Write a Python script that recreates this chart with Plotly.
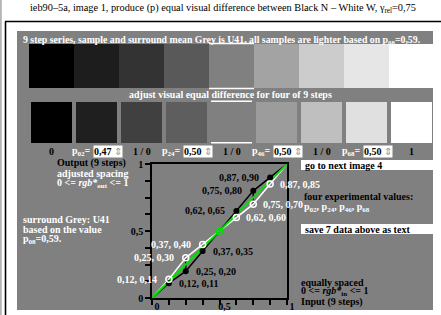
import plotly.graph_objects as go

W, H = 441, 315

# ---------------- data ----------------
x_in = [0, 0.125, 0.25, 0.375, 0.5, 0.625, 0.75, 0.875, 1]
x_lab = ["0", "0,12", "0,25", "0,37", "0,5", "0,62", "0,75", "0,87", "1"]
out_black = [0, 0.11, 0.20, 0.35, 0.5, 0.65, 0.80, 0.90, 1]
out_white = [0, 0.14, 0.30, 0.40, 0.5, 0.60, 0.70, 0.85, 1]
y_lab_black = ["0", "0,11", "0,20", "0,35", "0,5", "0,65", "0,80", "0,90", "1"]
y_lab_white = ["0", "0,14", "0,30", "0,40", "0,5", "0,60", "0,70", "0,85", "1"]

row1_grey = [0, 29, 51, 89, 128, 163, 204, 230, 255]
row2_grey = [0, 31, 64, 94, 128, 156, 191, 224, 255]

step_labels = ["0", "p02", "1 / 0", "p24", "1 / 0", "p46", "1 / 0", "p68", "1"]
p_values = ["0,47", "0,50", "0,50", "0,50"]

major_ticks = [0, 0.5, 1]
major_text = ["0", "0,5", "1"]

FONT = "Liberation Serif"
FS = 10


def px(x):
    return x / W


def py(y):
    return 1 - y / H


shapes = []
annotations = []


def rect(x0, y0, x1, y1, color, layer="below"):
    shapes.append(dict(type="rect", xref="paper", yref="paper",
                       x0=px(x0), x1=px(x1), y0=py(y1), y1=py(y0),
                       fillcolor=color, line=dict(width=0), layer=layer))


def line(x0, y0, x1, y1, color, width, layer="below"):
    shapes.append(dict(type="line", xref="paper", yref="paper",
                       x0=px(x0), x1=px(x1), y0=py(y0), y1=py(y1),
                       line=dict(color=color, width=width), layer=layer))


def text(x, y, s, color="black", size=FS, anchor="left", bold=True, bg=None):
    t = "<b>" + s + "</b>" if bold else s
    a = dict(xref="paper", yref="paper", x=px(x), y=py(y), text=t,
             showarrow=False, xanchor=anchor, yanchor="middle",
             font=dict(family=FONT, size=size, color=color), borderpad=0)
    if bg:
        a["bgcolor"] = bg
    annotations.append(a)


# frame
line(0.8, 0, 0.8, H, "#b4b4b4", 2)
line(5.5, 21.5, 5.5, H, "black", 1.6)
line(5, 21.5, W, 21.5, "black", 1.6)
rect(17, 31, 433, 310, "#808080")

# title
text(29, 8, "ieb90–5a, image 1, produce (p) equal visual difference between Black N – White W, "
     "γ<sub>rel</sub>=0,75", size=10.3, bold=False)

text(22, 39.5, "9 step series, sample and surround mean Grey is U41, all samples are lighter "
     "based on p<sub>08</sub>=0,59.", color="white", size=9.8)

# row 1 patches
for i, g in enumerate(row1_grey):
    x0 = 29 + 45 * i
    rect(x0, 44, x0 + 45, 88, "rgb(%d,%d,%d)" % (g, g, g))
mid = len(row1_grey) // 2
line(29 + 45 * mid, 43.5, 29 + 45 * mid + 45, 43.5, "white", 1.5)
line(29 + 45 * mid, 88.5, 29 + 45 * mid + 45, 88.5, "white", 1.5)

text(230, 94.5, "adjust visual equal difference for four of 9 steps", color="white", anchor="center")

# row 2 patches
for i, g in enumerate(row2_grey):
    x0 = 31 + 45 * i
    rect(x0, 102, x0 + 41, 143, "rgb(%d,%d,%d)" % (g, g, g))
line(31 + 45 * mid, 101.3, 31 + 45 * mid + 41, 101.3, "white", 1.5)
line(31 + 45 * mid, 142.7, 31 + 45 * mid + 41, 142.7, "white", 1.5)

# step labels
pi = 0
for i, lab in enumerate(step_labels):
    x0 = 31 + 45 * i
    if lab.startswith("p"):
        bx = x0 + 17
        text(bx - 1, 151.5, "p<sub>%s</sub>=" % lab[1:], color="white", anchor="right")
        annotations.append(dict(xref="paper", yref="paper", x=px(bx), y=py(151.5),
                                text="<b>%s</b><span style='color:#999999'> ⇕</span>" % p_values[pi],
                                showarrow=False, xanchor="left", yanchor="middle",
                                font=dict(family=FONT, size=FS, color="black"),
                                bgcolor="white", borderpad=0))
        pi += 1
    else:
        text(x0 + 20.5, 151.5, lab, color="black", anchor="center")

# left text block
text(56, 163, "Output (9 steps)", color="black")
text(56, 173.5, "adjusted spacing", color="white")
text(56, 183.5, "0 &lt;= <i>rgb*</i><sub>out</sub> &lt;= 1", color="white")
text(22, 219, "surround Grey: U41", color="white")
text(22, 229, "based on the value", color="white")
text(22, 239.5, "p<sub>08</sub>=0,59.", color="white")

# right text block
rect(301, 160, 433, 170, "white")
text(304, 165, "go to next image 4", color="black")
text(303, 196.5, "four experimental values:", color="black")
text(303, 207.5, "p<sub>02</sub>, p<sub>24</sub>, p<sub>46</sub>, p<sub>68</sub>", color="white")
rect(301, 224, 433, 234, "white")
text(304, 229, "save 7 data above as text", color="black")
text(300, 282.5, "equally spaced", color="black")
text(300, 291.5, "0 &lt;= <i>rgb*</i><sub>in</sub> &lt;= 1", color="black")
text(300, 301.5, "Input (9 steps)", color="black")

# ---------------- chart traces ----------------
fig = go.Figure()

# vertical connectors between black and white points
vx, vy = [], []
for x, b, w in zip(x_in, out_black, out_white):
    vx += [x, x, None]
    vy += [b, w, None]
fig.add_trace(go.Scatter(x=vx, y=vy, mode="lines", line=dict(color="black", width=1.5),
                         hoverinfo="skip", showlegend=False))

inner = [i for i in range(len(x_in)) if 0 < i < len(x_in) - 1 and i != mid]

fig.add_trace(go.Scatter(x=x_in, y=out_white, mode="lines", line=dict(color="white", width=1.5),
                         showlegend=False))
fig.add_trace(go.Scatter(x=x_in, y=out_black, mode="lines", line=dict(color="black", width=1.5),
                         showlegend=False))
fig.add_trace(go.Scatter(x=x_in, y=x_in, mode="lines", line=dict(color="#00e000", width=2),
                         showlegend=False))
fig.add_trace(go.Scatter(x=[x_in[mid]], y=[x_in[mid]], mode="markers",
                         marker=dict(symbol="circle-open", color="#00e000", size=6, line=dict(width=1.5)),
                         showlegend=False))
fig.add_trace(go.Scatter(x=[x_in[i] for i in inner], y=[out_black[i] for i in inner], mode="markers",
                         marker=dict(symbol="circle", color="black", size=6), showlegend=False))
fig.add_trace(go.Scatter(x=[x_in[i] for i in inner], y=[out_white[i] for i in inner], mode="markers",
                         marker=dict(symbol="circle-open", color="white", size=6, line=dict(width=1.5)),
                         showlegend=False))

# point labels
for i in inner:
    low = i < mid
    annotations.append(dict(xref="x", yref="y", x=x_in[i], y=out_black[i],
                            text="<b>%s, %s</b>" % (x_lab[i], y_lab_black[i]), showarrow=False,
                            xanchor="left" if low else "right", xshift=8 if low else -9,
                            yanchor="middle", font=dict(family=FONT, size=FS, color="black")))
    annotations.append(dict(xref="x", yref="y", x=x_in[i], y=out_white[i],
                            text="<b>%s, %s</b>" % (x_lab[i], y_lab_white[i]), showarrow=False,
                            xanchor="right" if low else "left", xshift=-10 if low else 8,
                            yanchor="middle", font=dict(family=FONT, size=FS, color="white")))

axis_common = dict(range=[0, 1], showgrid=False, zeroline=False, showline=True, linecolor="black",
                   linewidth=1.5, mirror=True, ticks="outside", ticklen=5, tickwidth=1.5,
                   tickcolor="black", tickmode="array", tickvals=major_ticks,
                   ticktext=["<b>%s</b>" % t for t in major_text],
                   minor=dict(tickmode="array", tickvals=x_in, ticks="outside", ticklen=5,
                              tickwidth=1.5, tickcolor="black", showgrid=False),
                   tickfont=dict(family=FONT, size=FS, color="black"), automargin=False)

fig.update_layout(
    width=W, height=H, margin=dict(l=0, r=0, t=0, b=0, pad=0, autoexpand=False),
    paper_bgcolor="white", plot_bgcolor="rgba(0,0,0,0)",
    xaxis=dict(domain=[152 / W, 287 / W], ticklabelstandoff=-7, ticklabelshift=5, **axis_common),
    yaxis=dict(domain=[17 / H, 151 / H], **axis_common),
    shapes=shapes, annotations=annotations, showlegend=False,
)

fig.write_html("out.html", config={"displayModeBar": False},
               post_script="document.body.style.margin='0';document.body.style.padding='0';")
